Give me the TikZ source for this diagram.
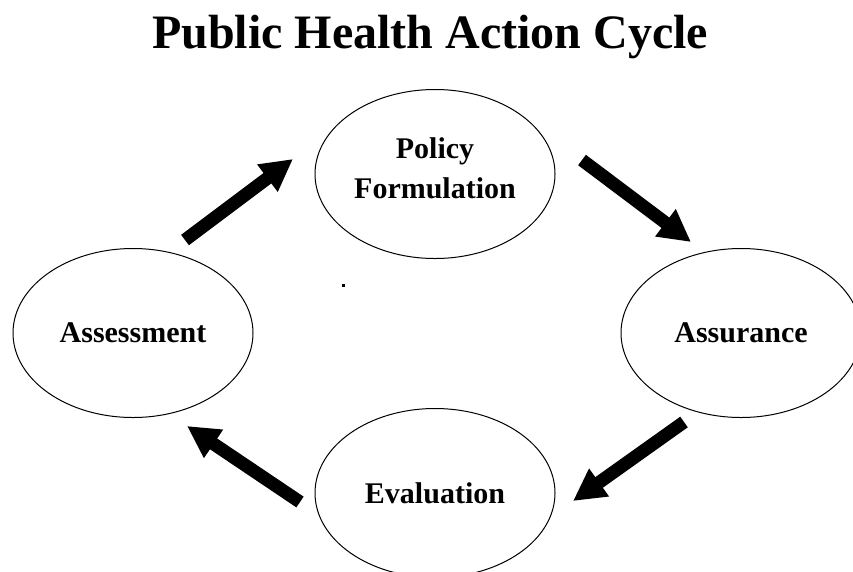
\documentclass[tikz,border=0pt]{standalone}
\usepackage{fontspec}
\setmainfont{Liberation Serif}
\usepackage{tikz}
\usetikzlibrary{shapes.geometric,arrows.meta}

\begin{document}
\begin{tikzpicture}[x=1pt, y=-1pt, main/.style = {draw, ellipse, line width=1pt, minimum width=240pt, minimum height=169pt, inner sep=0pt, font=\fontsize{30}{40}\selectfont\bfseries, align=center}, arr/.style = {line width=13pt, -{Triangle[length=32pt, width=32pt]}}] 
			\useasboundingbox (0,0) rectangle (853,571);
			\node (title) at (430,37) {\fontsize{48}{56}\selectfont\bfseries Public Health Action Cycle};
			\node[main, text depth=12pt] (policy) at (435,174) {Policy\\Formulation};
			\node[main] (assess) at (133,333) {Assessment};
			\node[main] (assur) at (741,333) {Assurance};
			\node[main] (eval) at (435,493) {Evaluation};
			\coordinate (a1) at (185,240); \coordinate (b1) at (293,159);
			\coordinate (a2) at (582,160); \coordinate (b2) at (691,242);
			\coordinate (a3) at (684,422); \coordinate (b3) at (573,501);
			\coordinate (a4) at (300,502); \coordinate (b4) at (187,426);
			\draw[arr] (a1) -- (b1);
			\draw[arr] (a2) -- (b2);
			\draw[arr] (a3) -- (b3);
			\draw[arr] (a4) -- (b4);
			\fill (342,284) rectangle (345,287);
		\end{tikzpicture}
\end{document}
